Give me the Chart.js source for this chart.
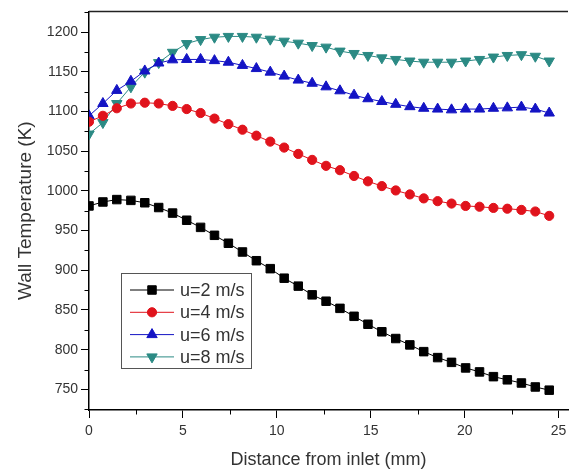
<!DOCTYPE html>
<html>
<head>
<meta charset="utf-8">
<script src="https://cdn.jsdelivr.net/npm/chart.js@4.4.0/dist/chart.umd.min.js"></script>
<style>
  html, body { margin: 0; padding: 0; background: #fff; }
  #wrap { width: 575px; height: 469px; }
</style>
</head>
<body>
<div id="wrap"><canvas id="grafico" width="575" height="469"></canvas></div>
<script>
// Posições ao longo do canal (mm)
const distancias = [0, 0.74, 1.48, 2.23, 2.97, 3.71, 4.45, 5.2, 5.94, 6.68, 7.42, 8.17,
  8.91, 9.65, 10.39, 11.14, 11.88, 12.62, 13.36, 14.11, 14.85, 15.59, 16.33, 17.08,
  17.82, 18.56, 19.3, 20.05, 20.79, 21.53, 22.27, 23.02, 23.76, 24.5];

// Temperatura da parede (K) para cada velocidade
const tempU2 = [981, 986, 989, 988, 985, 979, 972, 963, 954, 944, 934, 923,
  912, 902, 890, 880, 869, 861, 852, 842, 832, 822.5, 814, 806,
  797.5, 790, 784, 777, 772, 766, 762, 758, 753, 749];
const tempU4 = [1087, 1094.5, 1104, 1110, 1111, 1110, 1107, 1103, 1098, 1091, 1084, 1077,
  1069.5, 1062, 1054.5, 1046.5, 1039, 1031.5, 1026, 1018.75, 1012, 1006, 1000.5, 995.5,
  990.5, 987, 984, 981, 980, 978.5, 977.5, 976, 974, 968.5];
const tempU6 = [1094.5, 1110, 1126.5, 1138, 1151, 1161, 1165, 1165.5, 1165.5, 1164, 1162, 1158,
  1154, 1149.5, 1144.5, 1139.5, 1135.5, 1131, 1126, 1120.5, 1116, 1112.5, 1109, 1106,
  1104, 1103, 1102, 1103, 1103, 1104, 1104.5, 1105.5, 1103, 1098];
const tempU8 = [1071.5, 1086, 1110, 1131, 1149.5, 1161.5, 1174.5, 1185.5, 1190.5, 1193.5, 1194.5, 1194.5,
  1193.5, 1191, 1188.5, 1186, 1183, 1181, 1176, 1173, 1170.5, 1167.5, 1165.5, 1163.5,
  1162, 1162, 1162, 1163.5, 1165.5, 1168.5, 1170.5, 1171.5, 1169.5, 1163.5];

const rotulos = ['u=2 m/s', 'u=4 m/s', 'u=6 m/s', 'u=8 m/s'];

// Ticks dos eixos
const ticksX = [0, 5, 10, 15, 20, 25];
const ticksY = [750, 800, 850, 900, 950, 1000, 1050, 1100, 1150, 1200];
const ticksMenoresX = [2.5, 7.5, 12.5, 17.5, 22.5];
const ticksMenoresY = [725, 775, 825, 875, 925, 975, 1025, 1075, 1125, 1175, 1225];

const fonte = '"Liberation Sans", Arial, sans-serif';

function montarSerie(valores) {
  return distancias.map((x, i) => ({ x: x, y: valores[i] }));
}

const series = [
  { label: rotulos[0], data: montarSerie(tempU2), cor: '#000000', estilo: 'rect', raio: 6, rot: 0 },
  { label: rotulos[1], data: montarSerie(tempU4), cor: '#e0131c', estilo: 'circle', raio: 4.6, rot: 0 },
  { label: rotulos[2], data: montarSerie(tempU6), cor: '#1414c4', estilo: 'triangle', raio: 6, rot: 0 },
  { label: rotulos[3], data: montarSerie(tempU8), cor: '#2b8a84', estilo: 'triangle', raio: 6, rot: 180 }
];

// Plugin: linha superior, ticks menores e legenda dentro do gráfico
const molduraPlugin = {
  id: 'moldura',
  afterDraw(chart) {
    const ctx = chart.ctx;
    const area = chart.chartArea;
    const sx = chart.scales.x;
    const sy = chart.scales.y;
    ctx.save();

    ctx.strokeStyle = '#222';
    ctx.lineWidth = 1.5;
    ctx.beginPath();
    ctx.moveTo(area.left, area.top);
    ctx.lineTo(area.right, area.top);
    ctx.stroke();

    ctx.strokeStyle = '#000';
    ctx.lineWidth = 1;
    ticksMenoresX.forEach(v => {
      const px = Math.round(sx.getPixelForValue(v)) + 0.5;
      ctx.beginPath();
      ctx.moveTo(px, area.bottom);
      ctx.lineTo(px, area.bottom + 4.5);
      ctx.stroke();
    });
    ticksMenoresY.forEach(v => {
      const py = Math.round(sy.getPixelForValue(v)) + 0.5;
      ctx.beginPath();
      ctx.moveTo(area.left - 4.5, py);
      ctx.lineTo(area.left, py);
      ctx.stroke();
    });

    // Legenda
    ctx.strokeStyle = '#555';
    ctx.lineWidth = 1;
    ctx.strokeRect(121.5, 273.5, 130, 95);
    ctx.font = '18px ' + fonte;
    ctx.textBaseline = 'middle';
    series.forEach((s, i) => {
      const y = 290 + i * 22.3;
      ctx.strokeStyle = s.cor;
      ctx.fillStyle = s.cor;
      ctx.lineWidth = 1;
      ctx.beginPath();
      ctx.moveTo(130, y);
      ctx.lineTo(174, y);
      ctx.stroke();
      Chart.helpers.drawPoint(ctx, { pointStyle: s.estilo, rotation: s.rot, radius: s.raio, borderWidth: 1 }, 152, y);
      ctx.fillStyle = '#333';
      ctx.fillText(s.label, 180, y + 1);
    });

    ctx.restore();
  }
};

const ctx = document.getElementById('grafico').getContext('2d');

new Chart(ctx, {
  type: 'line',
  data: {
    datasets: series.map(s => ({
      label: s.label,
      data: s.data,
      borderColor: s.cor,
      backgroundColor: s.cor,
      borderWidth: 1,
      pointStyle: s.estilo,
      pointRotation: s.rot,
      pointRadius: s.raio,
      pointBorderWidth: 1,
      pointBackgroundColor: s.cor,
      pointBorderColor: s.cor,
      fill: false,
      tension: 0
    }))
  },
  options: {
    responsive: false,
    animation: false,
    layout: { padding: { top: 8, right: 0, left: 0, bottom: 0 } },
    plugins: {
      legend: { display: false },
      tooltip: { enabled: false }
    },
    scales: {
      x: {
        type: 'linear',
        min: 0,
        max: 25.5,
        afterBuildTicks(scale) { scale.ticks = ticksX.map(v => ({ value: v })); },
        ticks: {
          color: '#333',
          padding: 5,
          maxRotation: 0,
          callback: v => String(v),
          font: { size: 14, family: fonte }
        },
        grid: { drawOnChartArea: false, tickLength: 8, tickColor: '#000', tickWidth: 1 },
        border: { color: '#000', width: 1.5 },
        title: {
          display: true,
          text: 'Distance from inlet (mm)',
          color: '#333',
          font: { size: 18, family: fonte, lineHeight: 1 },
          padding: { top: 0, bottom: 0 }
        },
        afterFit(scale) { scale.height = 59; }
      },
      y: {
        min: 724,
        max: 1226,
        afterBuildTicks(scale) { scale.ticks = ticksY.map(v => ({ value: v })); },
        ticks: {
          color: '#333',
          padding: 3,
          callback: v => String(v),
          font: { size: 14, family: fonte }
        },
        grid: { drawOnChartArea: false, tickLength: 8, tickColor: '#000', tickWidth: 1 },
        border: { color: '#000', width: 1.5 },
        title: {
          display: true,
          text: 'Wall Temperature (K)',
          color: '#333',
          font: { size: 19, family: fonte, lineHeight: 1 },
          padding: { top: 16, bottom: 0 }
        },
        afterFit(scale) { scale.width = 89; }
      }
    }
  },
  plugins: [molduraPlugin]
});
</script>
</body>
</html>
